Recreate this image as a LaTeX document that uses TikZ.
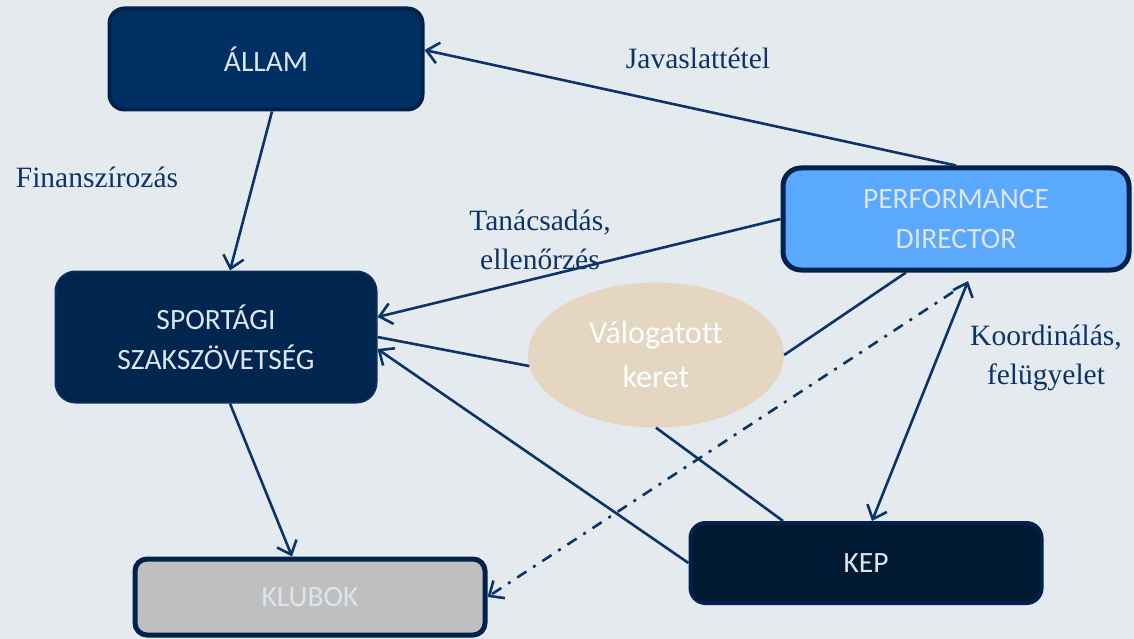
\documentclass[tikz,border=0pt]{standalone}
\usepackage{fontspec}
\setmainfont{Liberation Serif}
\newfontfamily\boxfont[Ligatures=NoCommon]{Carlito}
\usetikzlibrary{arrows.meta,shapes.geometric}
\definecolor{bgcol}{HTML}{E5EAEF}
\definecolor{navy}{HTML}{0D3466}
\definecolor{rim}{HTML}{00214C}
\definecolor{boxtxt}{HTML}{DCE4EC}
\definecolor{allamcol}{HTML}{003063}
\definecolor{pdcol}{HTML}{5BA9FF}
\definecolor{sportcol}{HTML}{00264F}
\definecolor{sportrim}{HTML}{0A2D5A}
\definecolor{valcol}{HTML}{E5D6C1}
\definecolor{kepcol}{HTML}{011A33}
\definecolor{klubcol}{HTML}{BFBFBF}
\begin{document}
\begin{tikzpicture}[x=1pt,y=-1pt,
    box/.style={draw=rim, line width=4pt, rounded corners=15pt, text=boxtxt,
      font=\boxfont\fontsize{29.5}{40}\selectfont, align=center, inner sep=0pt},
    lbl/.style={text=navy, font=\fontsize{29.5}{39.5}\selectfont, align=center},
    conn/.style={draw=navy, line width=2.6pt},
    >={Straight Barb[length=12pt,width=21pt]}]
    \fill[bgcol] (0,0) rectangle (1134,639);
    \useasboundingbox (0,0) rectangle (1134,639);
    % boxes
    \node[box, fill=allamcol, minimum width=313pt, minimum height=101pt] (allam) at (266,59) {ÁLLAM};
    \node[box, fill=pdcol, line width=5pt, rounded corners=18pt, minimum width=346pt, minimum height=102pt] (pd) at (956,219) {PERFORMANCE\\DIRECTOR};
    \node[box, fill=sportcol, draw=sportrim, line width=2pt, rounded corners=20pt, minimum width=321pt, minimum height=131pt] (sport) at (216,337) {SPORTÁGI\\SZAKSZÖVETSÉG};
    \node[ellipse, fill=valcol, text=white, inner sep=0pt, minimum width=256pt, minimum height=145pt,
      font=\boxfont\fontsize{32}{44}\selectfont, align=center] (val) at (656,355) {Válogatott\\keret};
    \node[box, fill=kepcol, minimum width=351pt, minimum height=80pt] (kep) at (866,563) {KEP};
    \node[box, fill=klubcol, line width=5pt, rounded corners=12pt, minimum width=350pt, minimum height=76pt] (klubok) at (310,597) {KLUBOK};
    % free ends
    \coordinate (pdb) at (968,281);
    \coordinate (pdk) at (953,292);
    % labels
    \node[lbl] (javas) at (698,58) {Javaslattétel};
    \node[lbl] (finan) at (97,177) {Finanszírozás};
    \node[lbl] (tanac) at (540,240) {Tanácsadás,\\ellenőrzés};
    \node[lbl] (koord) at (1046,358) {Koordinálás,\\felügyelet};
    % connectors
    \draw[conn,->] (pd.north) -- ([yshift=9pt]allam.east);
    \draw[conn,->] ([xshift=6pt]allam.south) -- ([xshift=14pt]sport.north);
    \draw[conn,->] (pd.west) -- ([yshift=20pt]sport.east);
    \draw[conn] (val.185) -- (sport.east);
    \draw[conn,->] (kep.west) -- ([yshift=-12pt]sport.east);
    \draw[conn,->] ([xshift=14pt]sport.south) -- ([xshift=-18pt]klubok.north);
    \draw[conn] ([xshift=-50pt]pd.south) -- (val.east);
    \draw[conn] (val.south) -- ([xshift=-83pt]kep.north);
    \draw[conn,<->] ([xshift=6pt]kep.north) -- (pdb);
    \draw[conn,->,dash pattern=on 11pt off 8pt on 3pt off 8pt] (pdk) -- (klubok.east);
\end{tikzpicture}
\end{document}
